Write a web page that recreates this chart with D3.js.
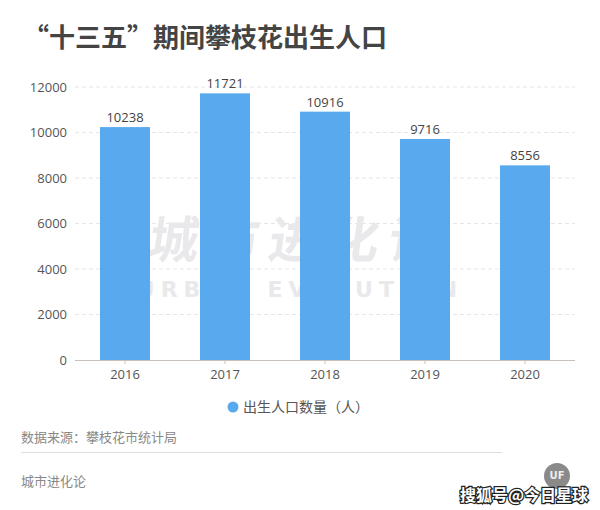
<!DOCTYPE html>
<html><head><meta charset="utf-8">
<script src="https://cdn.jsdelivr.net/npm/d3@7"></script>
<style>body{margin:0;background:#fff}svg{display:block}</style>
</head><body>
<script>
const years = ["2016","2017","2018","2019","2020"];
const births = [10238, 11721, 10916, 9716, 8556];
const yTicks = [0, 2000, 4000, 6000, 8000, 10000, 12000];
const title = "“十三五”期间攀枝花出生人口";
const seriesName = "出生人口数量（人）";
const sourceText = "数据来源：攀枝花市统计局";
const brand = "城市进化论";

const W = 600, H = 510;
const svg = d3.select("body").append("svg").attr("width", W).attr("height", H);
const font = "'Noto Sans CJK SC','Noto Sans',sans-serif";
const numFont = "'Open Sans','Noto Sans',sans-serif";

svg.append("text").attr("x", 23).attr("y", 47).attr("font-family", font)
  .attr("font-size", 26).attr("font-weight", "bold").attr("fill", "#444").text(title);

const x = d3.scaleBand().domain(years).range([75, 575]).paddingInner(0.5).paddingOuter(0.25);
const y = d3.scaleLinear().domain([0, 12000]).range([360, 87]);

// gridlines
svg.append("g").selectAll("line").data(yTicks.filter(d => d > 0)).join("line")
  .attr("x1", 75).attr("x2", 575).attr("y1", d => y(d)).attr("y2", d => y(d))
  .attr("stroke", "#e6e6e6").attr("stroke-dasharray", "4,3");

// watermark
svg.append("text").attr("x", 300).attr("y", 258).attr("text-anchor", "middle")
  .attr("font-family", font).attr("font-size", 50).attr("font-weight", "bold")
  .attr("transform", "skewX(-8) translate(33,0)")
  .attr("fill", "#e9e9ec").attr("letter-spacing", 10).text("城市进化论");
svg.append("text").attr("x", 300).attr("y", 297).attr("text-anchor", "middle")
  .attr("font-family", "'DejaVu Sans',sans-serif").attr("font-size", 22).attr("font-weight", "bold")
  .attr("fill", "#e9e9ec").attr("letter-spacing", 6).text("URBAN EVOLUTION");

// y axis
const yAxis = d3.axisLeft(y).tickValues(yTicks).tickFormat(d3.format("d")).tickSize(0).tickPadding(8);
const gy = svg.append("g").attr("transform", "translate(75,0)").call(yAxis);
gy.select(".domain").remove();
gy.selectAll("text").attr("font-family", numFont).attr("font-size", 13).attr("fill", "#555");

// bars
svg.append("g").selectAll("rect").data(births).join("rect")
  .attr("x", (d, i) => x(years[i])).attr("width", x.bandwidth())
  .attr("y", d => y(d)).attr("height", d => y(0) - y(d)).attr("fill", "#59a9ef");

// value labels
svg.append("g").selectAll("text").data(births).join("text")
  .attr("x", (d, i) => x(years[i]) + x.bandwidth() / 2).attr("y", d => y(d) - 5)
  .attr("text-anchor", "middle").attr("font-family", numFont).attr("font-size", 13)
  .attr("fill", "#444").text(d => d);

// x axis
const xAxis = d3.axisBottom(x).tickSize(4).tickPadding(6);
const gx = svg.append("g").attr("transform", "translate(0,360)").call(xAxis);
gx.select(".domain").attr("stroke", "#c8c0bb").attr("d", "M75,0.5H575");
gx.selectAll(".tick line").attr("stroke", "#c8c0bb");
gx.selectAll("text").attr("font-family", numFont).attr("font-size", 13).attr("fill", "#555");

// legend
svg.append("circle").attr("cx", 233).attr("cy", 407).attr("r", 5.5).attr("fill", "#59a9ef");
svg.append("text").attr("x", 243).attr("y", 412).attr("font-family", font).attr("font-size", 14)
  .attr("fill", "#555").text(seriesName);

// footer
svg.append("text").attr("x", 21).attr("y", 442).attr("font-family", font).attr("font-size", 13)
  .attr("fill", "#888").text(sourceText);
svg.append("line").attr("x1", 21).attr("x2", 502).attr("y1", 452.5).attr("y2", 452.5)
  .attr("stroke", "#ddd").attr("stroke-width", 1);
svg.append("text").attr("x", 21).attr("y", 486).attr("font-family", font).attr("font-size", 13)
  .attr("fill", "#888").text(brand);

// logo + platform watermark
svg.append("circle").attr("cx", 557).attr("cy", 476).attr("r", 13).attr("fill", "#8a8a8a");
svg.append("text").attr("x", 557).attr("y", 479).attr("text-anchor", "middle")
  .attr("font-family", "'DejaVu Sans',sans-serif").attr("font-size", 10).attr("font-weight", "bold")
  .attr("fill", "#eee").text("UF");
svg.append("text").attr("x", 460).attr("y", 501).attr("font-family", font).attr("font-size", 16)
  .attr("font-weight", "bold").attr("fill", "#fff").attr("stroke", "#222").attr("stroke-width", 2.5)
  .attr("paint-order", "stroke").text("搜狐号@今日星球");
</script>
</body></html>
